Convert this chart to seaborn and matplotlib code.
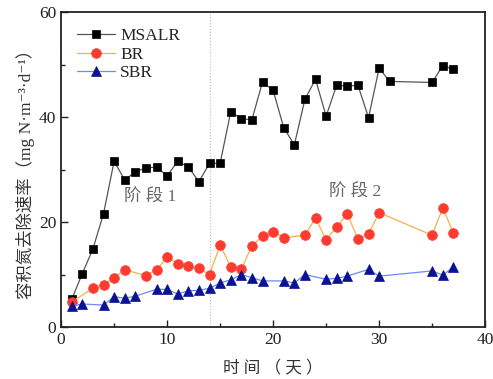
import matplotlib
matplotlib.use("Agg")
import matplotlib.pyplot as plt
from matplotlib.ticker import MultipleLocator
import seaborn as sns
import pandas as pd

# Volumetric nitrogen removal rate per reactor (mg N·m-3·d-1) against operating day
msalr_days = [1, 2, 3, 4, 5, 6, 7, 8, 9, 10, 11, 12, 13, 14, 15, 16, 17, 18, 19, 20,
              21, 22, 23, 24, 25, 26, 27, 28, 29, 30, 31, 35, 36, 37]
msalr_rate = [5.3, 10.2, 14.9, 21.6, 31.6, 28.0, 29.6, 30.3, 30.5, 28.8, 31.6, 30.5, 27.7,
              31.2, 31.2, 41.0, 39.7, 39.5, 46.7, 45.1, 38.0, 34.7, 43.4, 47.2, 40.2, 46.1,
              45.9, 46.1, 39.9, 49.3, 46.8, 46.6, 49.8, 49.1]

br_days = [1, 3, 4, 5, 6, 8, 9, 10, 11, 12, 13, 14, 15, 16, 17, 18, 19, 20, 21, 23, 24,
           25, 26, 27, 28, 29, 30, 35, 36, 37]
br_rate = [4.8, 7.4, 8.0, 9.4, 10.9, 9.8, 10.9, 13.3, 12.1, 11.6, 11.2, 10.0, 15.6, 11.5,
           11.0, 15.5, 17.3, 18.2, 17.0, 17.5, 20.8, 16.6, 19.1, 21.5, 16.8, 17.7, 21.8,
           17.5, 22.7, 18.0]

sbr_days = [1, 2, 4, 5, 6, 7, 9, 10, 11, 12, 13, 14, 15, 16, 17, 18, 19, 21, 22, 23, 25,
            26, 27, 29, 30, 35, 36, 37]
sbr_rate = [4.0, 4.4, 4.2, 5.8, 5.5, 5.9, 7.2, 7.2, 6.3, 6.9, 7.0, 7.4, 8.4, 9.0, 10.0,
            9.4, 8.8, 8.8, 8.4, 10.0, 9.1, 9.3, 9.7, 11.0, 9.7, 10.7, 9.9, 11.4]

series_names = ["MSALR", "BR", "SBR"]
stage_split = 14
stage_labels = ["阶 段 1", "阶 段 2"]

df = pd.concat([
    pd.DataFrame({"day": msalr_days, "rate": msalr_rate, "reactor": "MSALR"}),
    pd.DataFrame({"day": br_days, "rate": br_rate, "reactor": "BR"}),
    pd.DataFrame({"day": sbr_days, "rate": sbr_rate, "reactor": "SBR"}),
], ignore_index=True)

sns.set_theme(style="ticks")
serif_cjk = ["Liberation Serif", "Noto Sans CJK SC", "DejaVu Sans"]
plt.rcParams["font.family"] = serif_cjk

fig = plt.figure(figsize=(4.93, 3.79), dpi=100)
ax = fig.add_axes([0.124, 0.137, 0.86, 0.831])

styles = {
    "MSALR": dict(line="#555555", face="#000000", marker="s", ms=6.0),
    "BR": dict(line="#f5b04a", face="#ff3b30", marker="o", ms=7.0),
    "SBR": dict(line="#6c8cf5", face="#0b1294", marker="^", ms=7.0),
}

for name in series_names:
    st = styles[name]
    sub = df[df["reactor"] == name]
    sns.lineplot(data=sub, x="day", y="rate", ax=ax, color=st["line"], lw=0.9,
                 marker=st["marker"], markersize=st["ms"], markerfacecolor=st["face"],
                 markeredgecolor=st["face"], markeredgewidth=0.5, label=name,
                 estimator=None, sort=False, zorder=3)

ax.axvline(stage_split, color="#bbbbbb", lw=0.8, ls=":", zorder=1)

ax.text(8.4, 24.6, stage_labels[0], fontsize=12.5, color="#666666", ha="center", va="center")
ax.text(27.7, 25.7, stage_labels[1], fontsize=12.5, color="#666666", ha="center", va="center")

ax.set_xlim(0, 40)
ax.set_ylim(0, 60)
ax.xaxis.set_major_locator(MultipleLocator(10))
ax.xaxis.set_minor_locator(MultipleLocator(5))
ax.yaxis.set_major_locator(MultipleLocator(20))
ax.yaxis.set_minor_locator(MultipleLocator(10))
ax.tick_params(which="both", direction="in", colors="#222222", labelsize=12.5,
               top=False, right=False)
ax.tick_params(which="major", length=5, width=1.0)
ax.tick_params(which="minor", length=3, width=1.0)
for spine in ax.spines.values():
    spine.set_visible(True)
    spine.set_linewidth(1.3)
    spine.set_color("#222222")

ax.set_xlabel("时 间 （ 天 ）", fontsize=12, color="#333333", labelpad=9)
ax.set_ylabel("容积氮去除速率（mg N·m⁻³·d⁻¹）", fontsize=12.5, color="#333333", labelpad=3)

leg = ax.legend(loc="upper left", bbox_to_anchor=(0.0, 1.0), frameon=False, fontsize=12.5,
                handlelength=2.2, handletextpad=0.3, labelspacing=0.15, borderaxespad=0.5)

fig.savefig("out.png", dpi=100)
